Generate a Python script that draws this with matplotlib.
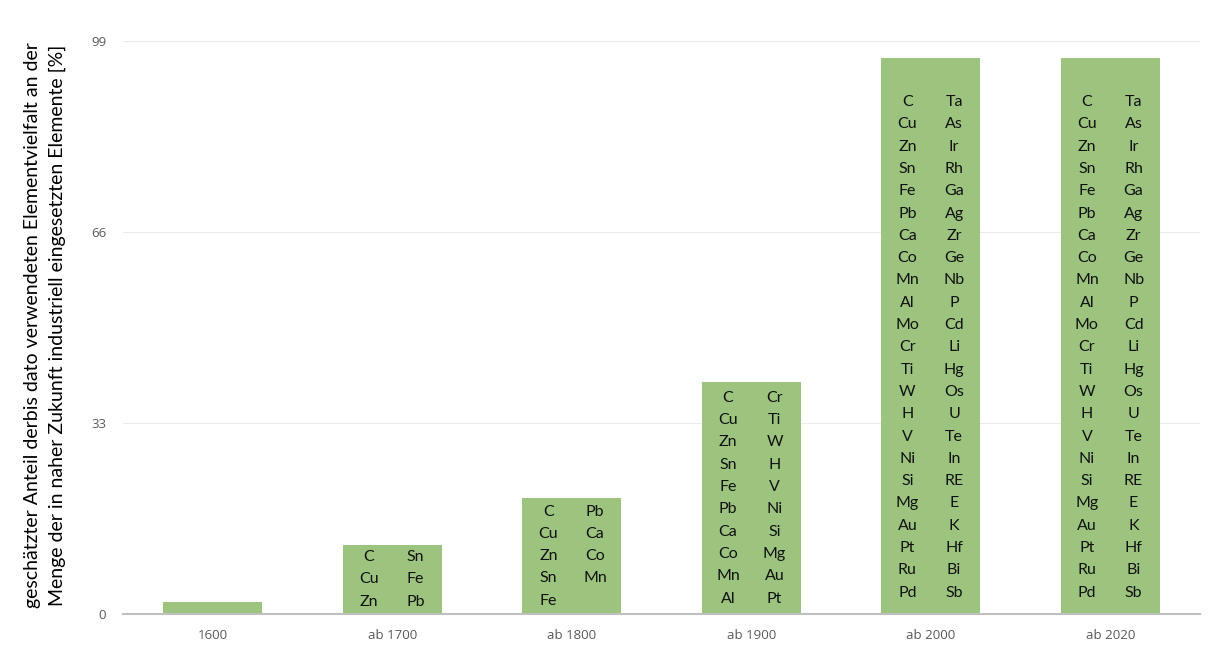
import matplotlib
matplotlib.use("Agg")
import matplotlib.pyplot as plt

categories = ["1600", "ab 1700", "ab 1800", "ab 1900", "ab 2000", "ab 2020"]
values = [2, 12, 20, 40, 96, 96]
yticks = [0, 33, 66, 99]

left_2000 = ["", "C", "Cu", "Zn", "Sn", "Fe", "Pb", "Ca", "Co", "Mn", "Al", "Mo", "Cr", "Ti",
             "W", "H", "V", "Ni", "Si", "Mg", "Au", "Pt", "Ru", "Pd"]
right_2000 = ["", "Ta", "As", "Ir", "Rh", "Ga", "Ag", "Zr", "Ge", "Nb", "P", "Cd", "Li", "Hg",
              "Os", "U", "Te", "In", "RE", "E", "K", "Hf", "Bi", "Sb"]
left_cols = [
    [],
    ["C", "Cu", "Zn"],
    ["C", "Cu", "Zn", "Sn", "Fe"],
    ["C", "Cu", "Zn", "Sn", "Fe", "Pb", "Ca", "Co", "Mn", "Al"],
    left_2000,
    left_2000,
]
right_cols = [
    [],
    ["Sn", "Fe", "Pb"],
    ["Pb", "Ca", "Co", "Mn", ""],
    ["Cr", "Ti", "W", "H", "V", "Ni", "Si", "Mg", "Au", "Pt"],
    right_2000,
    right_2000,
]

W, H = 1214, 652
fig = plt.figure(figsize=(W / 100, H / 100), dpi=100)
ax = fig.add_axes([123 / W, 1 - 614 / H, (1200 - 123) / W, (614 - 41) / H])

x = list(range(len(categories)))
ax.bar(x, values, width=0.55, color="#9CC47F", zorder=2)

ax.set_xlim(-0.5, len(categories) - 0.5)
ax.set_ylim(0, 99)
ax.set_yticks(yticks)
ax.set_xticks(x)
ax.set_xticklabels(categories)
ax.tick_params(axis="both", length=0, colors="#595959", labelsize=9.5)
ax.tick_params(axis="x", pad=11)
ax.tick_params(axis="y", pad=12)
for lab in ax.get_xticklabels() + ax.get_yticklabels():
    lab.set_family("Open Sans")
ax.yaxis.grid(True, color="#EBEBEB", linewidth=0.8, zorder=0)
for s in ["top", "right", "left"]:
    ax.spines[s].set_visible(False)
ax.spines["bottom"].set_color("#BFBFBF")
ax.spines["bottom"].set_linewidth(1.5)
ax.spines["bottom"].set_zorder(3)

row_pt = 16.06
col_off = 0.13
for i, v in enumerate(values):
    for col, dx in ((left_cols[i], -col_off), (right_cols[i], col_off)):
        n = len(col)
        for r, name in enumerate(col):
            if not name:
                continue
            off = ((n - 1) / 2 - r) * row_pt
            ax.annotate(name, xy=(i + dx, v / 2), xytext=(0, off),
                        textcoords="offset points", ha="center", va="center",
                        fontsize=11.5, family="Lato", color="#111111", zorder=4)

fig.text(33 / W, 1 - 325 / H, "geschätzter Anteil derbis dato verwendeten Elementvielfalt an der",
         rotation=90, ha="center", va="center", fontsize=14, family="Lato", color="#000000")
fig.text(57 / W, 1 - 325 / H, "Menge der in naher Zukunft industriell eingesetzten Elemente [%]",
         rotation=90, ha="center", va="center", fontsize=14, family="Lato", color="#000000")

fig.savefig("out.png", dpi=100)
